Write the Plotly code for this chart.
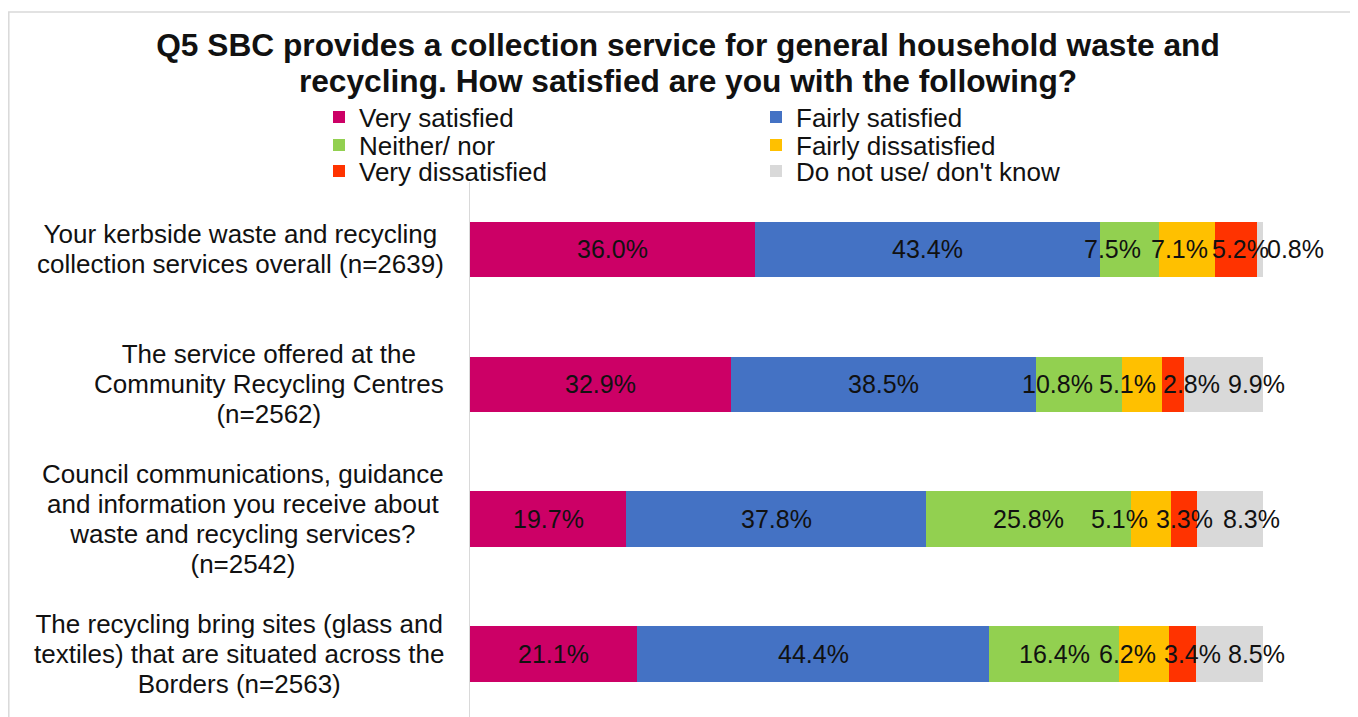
import plotly.graph_objects as go

# ----------------------------------------
# Data
# ----------------------------------------

categories = [
    "Your kerbside waste and recycling<br>collection services overall (n=2639)",
    "The service offered at the<br>Community Recycling Centres<br>(n=2562)",
    "Council communications, guidance<br>and information you receive about<br>waste and recycling services?<br>(n=2542)",
    "The recycling bring sites (glass and<br>textiles) that are situated across the<br>Borders (n=2563)",
]

series_names = [
    "Very satisfied",
    "Fairly satisfied",
    "Neither/ nor",
    "Fairly dissatisfied",
    "Very dissatisfied",
    "Do not use/ don't know",
]

very_satisfied = [36.0, 32.9, 19.7, 21.1]
fairly_satisfied = [43.4, 38.5, 37.8, 44.4]
neither_nor = [7.5, 10.8, 25.8, 16.4]
fairly_dissatisfied = [7.1, 5.1, 5.1, 6.2]
very_dissatisfied = [5.2, 2.8, 3.3, 3.4]
do_not_use = [0.8, 9.9, 8.3, 8.5]

title_lines = [
    "Q5 SBC provides a collection service for general household waste and",
    "recycling. How satisfied are you with the following?",
]

# ----------------------------------------
# Styling
# ----------------------------------------

# the page body adds an 8px offset, so figure coords = screen - 8
W, H = 1358, 717
L, R, T, B = 462, 103, 174, 0
FONT = "Liberation Sans, Arial, sans-serif"
INK = "#111111"

colors = ["#CC0066", "#4472C4", "#92D050", "#FFC000", "#FF3300", "#D9D9D9"]

# legend as a 2-column grid: (left px, row centre px)
legend_cols = [311, 748]
legend_rows = [109, 137, 163]

# data labels were nudged sideways in the original (px)
label_nudge = [
    [0, 0, -17, -8, 4, 36],
    [0, 0, -22, -15, 18, 33],
    [0, 0, 0, -31, 0, 21],
    [0, 0, 0, -17, 10, 27],
]

series = [
    very_satisfied,
    fairly_satisfied,
    neither_nor,
    fairly_dissatisfied,
    very_dissatisfied,
    do_not_use,
]

fig = go.Figure()

for i, (name, values, color) in enumerate(zip(series_names, series, colors)):
    key = "legend" if i == 0 else f"legend{i + 1}"
    fig.add_trace(go.Bar(
        y=categories,
        x=values,
        name=name,
        orientation="h",
        marker=dict(color=color, line=dict(width=0)),
        legend=key,
        hoverinfo="skip",
    ))
    fig.update_layout({key: dict(
        orientation="h",
        xref="container", x=legend_cols[i % 2] / W, xanchor="left",
        yref="container", y=1 - legend_rows[i // 2] / H, yanchor="middle",
        font=dict(family=FONT, size=26, color=INK),
        bgcolor="rgba(0,0,0,0)",
        itemclick=False, itemdoubleclick=False,
    )})

annotations = []

# value labels
for j, cat in enumerate(categories):
    base = 0
    for i, values in enumerate(series):
        v = values[j]
        annotations.append(dict(
            x=base + v / 2, y=cat, xref="x", yref="y",
            text=f"{v:.1f}%", showarrow=False,
            xshift=label_nudge[j][i],
            font=dict(family=FONT, size=25, color=INK),
        ))
        base += v

# category labels (tight line spacing like the original)
for cat in categories:
    lines = cat.split("<br>")
    text = "<br>".join(f'<span style="font-size:26px">{ln}</span>' for ln in lines)
    annotations.append(dict(
        x=0, y=cat, xref="paper", yref="y",
        xanchor="right", yanchor="middle", align="center",
        xshift=-24, text=text, showarrow=False,
        font=dict(family=FONT, size=23, color=INK),
    ))

title_text = "<br>".join(f'<span style="font-size:31.7px">{ln}</span>' for ln in title_lines)

pw = W - L - R
ph = H - T - B

fig.update_layout(
    width=W,
    height=H,
    margin=dict(l=L, r=R, t=T, b=B, autoexpand=False),
    paper_bgcolor="white",
    plot_bgcolor="white",
    barmode="stack",
    bargap=0.59,
    title=dict(
        text=title_text,
        x=680 / W, xref="container", xanchor="center",
        y=1 - 48 / H, yref="container", yanchor="middle",
        font=dict(family=FONT, size=28, color=INK, weight="bold"),
    ),
    xaxis=dict(
        range=[0, 100],
        showgrid=False, zeroline=False, showticklabels=False, showline=False,
    ),
    yaxis=dict(
        type="category",
        range=[3.527, -0.5],
        showgrid=False, zeroline=False, showticklabels=False,
        showline=True, linecolor="#D9D9D9", linewidth=1,
    ),
    annotations=annotations,
    shapes=[dict(
        type="rect", xref="paper", yref="paper", layer="below",
        x0=(0.8 - L) / pw, x1=1.5,
        y0=-0.5, y1=(H - B - 4) / ph,
        line=dict(color="#D9D9D9", width=1.5),
    )],
    showlegend=True,
)

fig.write_html("out.html")
